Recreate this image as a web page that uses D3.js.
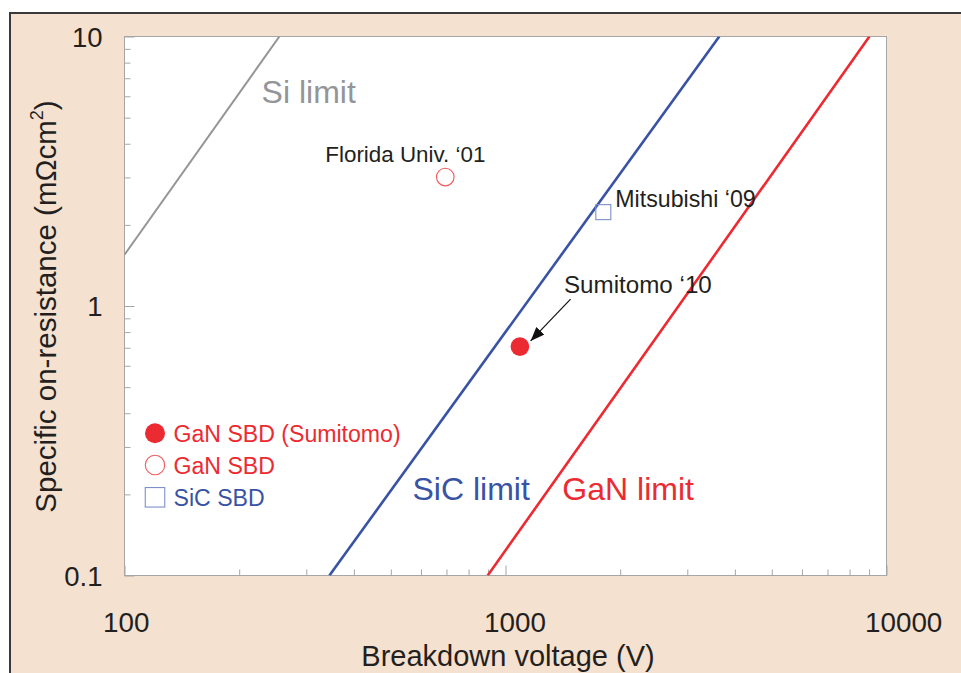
<!DOCTYPE html>
<html>
<head>
<meta charset="utf-8">
<script src="https://cdn.jsdelivr.net/npm/d3@7"></script>
<style>
  html, body { margin: 0; padding: 0; background: #ffffff; }
  svg { display: block; }
  text { font-family: "Liberation Sans", Arial, Helvetica, sans-serif; }
</style>
</head>
<body>
<svg id="chart" width="961" height="673"></svg>
<script>
// ---------------- DATA ----------------
const xDomain = [100, 10000];            // Breakdown voltage (V)
const yDomain = [0.1, 10];               // Specific on-resistance (mΩcm²)
const xMajorTicks = [100, 1000, 10000];
const yMajorTicks = [0.1, 1, 10];
const xTickLabels = ["100", "1000", "10000"];
const yTickLabels = ["0.1", "1", "10"];

// Material limit lines (endpoints)
const limitNames = ["Si limit", "SiC limit", "GaN limit"];
const siLimitV = [100, 255];
const siLimitR = [1.55, 10];
const sicLimitV = [345, 3640];
const sicLimitR = [0.1, 10];
const ganLimitV = [898, 9020];
const ganLimitR = [0.1, 10];
// Where the limit labels sit (data coordinates)
const limitLabelV = [229, 570, 1410];
const limitLabelR = [5.65, 0.191, 0.191];

// Device data points
const deviceNames = ["Florida Univ. \u201801", "Mitsubishi \u201809", "Sumitomo \u201810"];
const deviceV = [695, 1806, 1091];
const deviceR = [3.01, 2.23, 0.707];
const deviceType = ["GaN SBD", "SiC SBD", "GaN SBD (Sumitomo)"];

// Legend entries
const legendLabels = ["GaN SBD (Sumitomo)", "GaN SBD", "SiC SBD"];

// Arrow for Sumitomo '10 (data coordinates: from -> to)
const arrowV = [1482, 1164];
const arrowR = [1.06, 0.742];

// ---------------- STYLE ----------------
const C = {
  bg: "#f5e1cf",
  frame: "#3a3a3a",
  border: "#a6a6a6",
  text: "#231f20",
  si: "#939598",
  sic: "#3953a4",
  gan: "#ec2a32",
  openRed: "#f05a5e",
  openBlue: "#7d90c9"
};
const FONT = '"Liberation Sans", Arial, Helvetica, sans-serif';

const svg = d3.select("#chart");
const W = 961, H = 673;
const plot = { left: 124.5, right: 886.5, top: 36.5, bottom: 575.5 };

// background frame
svg.append("rect").attr("x", 0).attr("y", 0).attr("width", W).attr("height", H).attr("fill", "#ffffff");
svg.append("rect").attr("x", 10).attr("y", 13).attr("width", W).attr("height", H)
  .attr("fill", C.bg).attr("stroke", C.frame).attr("stroke-width", 2);

// plot area
svg.append("rect")
  .attr("x", plot.left).attr("y", plot.top)
  .attr("width", plot.right - plot.left).attr("height", plot.bottom - plot.top)
  .attr("fill", "#ffffff");

const x = d3.scaleLog().domain(xDomain).range([plot.left, plot.right]);
const y = d3.scaleLog().domain(yDomain).range([plot.bottom, plot.top]);

const xMinor = x.ticks().filter(v => !xMajorTicks.some(m => Math.abs(m - v) < 1e-9));
const yMinor = y.ticks().filter(v => !yMajorTicks.some(m => Math.abs(m - v) < 1e-9));

function styleAxis(g) {
  g.select(".domain").remove();
  g.selectAll(".tick line").attr("stroke", C.border).attr("stroke-width", 1);
}

// x axis: ticks point up into plot
svg.append("g").attr("transform", `translate(0,${plot.bottom})`)
  .call(d3.axisBottom(x).tickValues(xMinor).tickSizeInner(-6).tickFormat(""))
  .call(styleAxis);
const gx = svg.append("g").attr("transform", `translate(0,${plot.bottom})`)
  .call(d3.axisBottom(x).tickValues(xMajorTicks).tickSizeInner(-10).tickPadding(0)
    .tickFormat((d, i) => xTickLabels[i]))
  .call(styleAxis);
gx.selectAll(".tick text")
  .attr("font-family", FONT).attr("font-size", 27.8).attr("fill", C.text)
  .attr("text-anchor", "start").attr("dx", -22).attr("dy", 0).attr("y", 56);

// y axis: ticks point right into plot
svg.append("g").attr("transform", `translate(${plot.left},0)`)
  .call(d3.axisLeft(y).tickValues(yMinor).tickSizeInner(-6).tickFormat(""))
  .call(styleAxis);
const gy = svg.append("g").attr("transform", `translate(${plot.left},0)`)
  .call(d3.axisLeft(y).tickValues(yMajorTicks).tickSizeInner(-10).tickPadding(0)
    .tickFormat((d, i) => yTickLabels[i]))
  .call(styleAxis);
gy.selectAll(".tick text")
  .attr("font-family", FONT).attr("font-size", 27.5).attr("fill", C.text)
  .attr("text-anchor", "end").attr("x", -22).attr("dy", "0.35em");

// plot border
svg.append("rect")
  .attr("x", plot.left).attr("y", plot.top)
  .attr("width", plot.right - plot.left).attr("height", plot.bottom - plot.top)
  .attr("fill", "none").attr("stroke", C.border).attr("stroke-width", 1);

// clip for lines
svg.append("clipPath").attr("id", "clip").append("rect")
  .attr("x", plot.left).attr("y", plot.top)
  .attr("width", plot.right - plot.left).attr("height", plot.bottom - plot.top);

const line = d3.line().x(d => x(d[0])).y(d => y(d[1]));
const limits = [
  { v: siLimitV, r: siLimitR, color: C.si, w: 2 },
  { v: sicLimitV, r: sicLimitR, color: C.sic, w: 2.6 },
  { v: ganLimitV, r: ganLimitR, color: C.gan, w: 2.6 }
];
const gLines = svg.append("g").attr("clip-path", "url(#clip)");
limits.forEach(L => {
  gLines.append("path")
    .datum(L.v.map((v, i) => [v, L.r[i]]))
    .attr("d", line).attr("fill", "none")
    .attr("stroke", L.color).attr("stroke-width", L.w);
});

// limit labels
limitNames.forEach((name, i) => {
  svg.append("text")
    .attr("x", x(limitLabelV[i])).attr("y", y(limitLabelR[i]))
    .attr("font-family", FONT).attr("font-size", 32)
    .attr("fill", limits[i].color).text(name);
});

// marker drawing
function drawMarker(g, type, cx, cy, big) {
  if (type === "GaN SBD (Sumitomo)") {
    g.append("circle").attr("cx", cx).attr("cy", cy).attr("r", big ? 10 : 9.3)
      .attr("fill", C.gan);
  } else if (type === "GaN SBD") {
    g.append("circle").attr("cx", cx).attr("cy", cy).attr("r", big ? 9.7 : 8.8)
      .attr("fill", "none").attr("stroke", C.openRed).attr("stroke-width", 1.1);
  } else {
    const s = big ? 19.5 : 15;
    g.append("rect").attr("x", cx - s / 2).attr("y", cy - s / 2)
      .attr("width", s).attr("height", s)
      .attr("fill", "none").attr("stroke", C.openBlue).attr("stroke-width", 1.1);
  }
}

const gPts = svg.append("g");
deviceV.forEach((v, i) => drawMarker(gPts, deviceType[i], x(v), y(deviceR[i]), false));

// device labels (offsets from their points)
const labelOffsets = [[-120, -15], [12, -5], [44, -54]];
const labelSizes = [22.4, 23.2, 24.2];
deviceNames.forEach((name, i) => {
  svg.append("text")
    .attr("x", x(deviceV[i]) + labelOffsets[i][0])
    .attr("y", y(deviceR[i]) + labelOffsets[i][1])
    .attr("font-family", FONT).attr("font-size", labelSizes[i])
    .attr("fill", C.text).text(name);
});

// arrow
svg.append("defs").append("marker")
  .attr("id", "arrowhead").attr("viewBox", "0 0 14 11")
  .attr("refX", 14).attr("refY", 5.5)
  .attr("markerWidth", 14).attr("markerHeight", 11)
  .attr("markerUnits", "userSpaceOnUse")
  .attr("orient", "auto")
  .append("path").attr("d", "M0,0 L14,5.5 L0,11 Z").attr("fill", "#111");
svg.append("line")
  .attr("x1", x(arrowV[0])).attr("y1", y(arrowR[0]))
  .attr("x2", x(arrowV[1])).attr("y2", y(arrowR[1]))
  .attr("stroke", "#111").attr("stroke-width", 1.2)
  .attr("marker-end", "url(#arrowhead)");

// legend
const legend = svg.append("g");
const legColors = [C.gan, C.gan, C.sic];
const legendMarkerY = [433.3, 465, 497.3];
legendLabels.forEach((lab, i) => {
  drawMarker(legend, lab, 155, legendMarkerY[i], true);
  legend.append("text").attr("x", 173.5).attr("y", legendMarkerY[i] + 8.5)
    .attr("font-family", FONT).attr("font-size", 23.1)
    .attr("fill", legColors[i]).text(lab);
});

// axis titles
svg.append("text")
  .attr("x", (plot.left + plot.right) / 2 + 2.5).attr("y", 666)
  .attr("text-anchor", "middle")
  .attr("font-family", FONT).attr("font-size", 29).attr("fill", C.text)
  .text("Breakdown voltage (V)");

const yt = svg.append("text")
  .attr("transform", `translate(56,${(plot.top + plot.bottom) / 2 + 0.5}) rotate(-90)`)
  .attr("text-anchor", "middle")
  .attr("font-family", FONT).attr("font-size", 29.5).attr("fill", C.text);
yt.append("tspan").text("Specific on-resistance (m\u03A9cm");
yt.append("tspan").attr("font-size", 18).attr("dy", -13).text("2");
yt.append("tspan").attr("dy", 13).text(")");
</script>
</body>
</html>
